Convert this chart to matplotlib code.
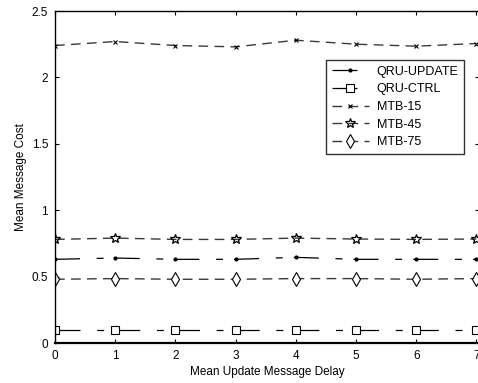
import numpy as np
import matplotlib
matplotlib.use('Agg')
import matplotlib.pyplot as plt

plt.rcParams['font.family'] = ['Liberation Sans', 'DejaVu Sans']
plt.rcParams['lines.scale_dashes'] = False

# 数据
delay = [0, 1, 2, 3, 4, 5, 6, 7]
qru_update = [0.63, 0.64, 0.63, 0.63, 0.645, 0.63, 0.63, 0.63]
qru_ctrl = [0.10, 0.10, 0.10, 0.10, 0.10, 0.10, 0.10, 0.10]
mtb_15 = [2.24, 2.27, 2.24, 2.23, 2.28, 2.25, 2.235, 2.255]
mtb_45 = [0.78, 0.79, 0.78, 0.78, 0.79, 0.783, 0.78, 0.783]
mtb_75 = [0.48, 0.485, 0.48, 0.48, 0.485, 0.485, 0.48, 0.485]

xticks = [0, 1, 2, 3, 4, 5, 6, 7]
yticks = [0, 0.5, 1, 1.5, 2, 2.5]
ytick_labels = ['0', '0.5', '1', '1.5', '2', '2.5']

W, H = 478, 383
fig = plt.figure(figsize=(W / 100, H / 100), dpi=100)
ax = fig.add_axes([55 / W, 40 / H, (479.4 - 55) / W, (343 - 11) / H])

qru_dash = (0, (18, 12, 5, 8))
mtb_dash = (0, (7, 4.5))
dash_col = '#3a3a3a'

ax.plot(delay, qru_update, color='black', lw=0.9, linestyle=qru_dash,
        marker='.', ms=4, label='QRU-UPDATE')
ax.plot(delay, qru_ctrl, color='black', lw=0.9, linestyle=qru_dash,
        marker='s', ms=5.8, mfc='white', mew=0.8, label='QRU-CTRL')
ax.plot(delay, mtb_15, color=dash_col, lw=1.0, linestyle=mtb_dash,
        marker='x', ms=3.5, mec='black', mew=0.8, label='MTB-15')
ax.plot(delay, mtb_45, color=dash_col, lw=1.0, linestyle=mtb_dash,
        marker='*', ms=7.5, mfc='none', mec='black', mew=0.9, label='MTB-45')
ax.plot(delay, mtb_75, color=dash_col, lw=1.0, linestyle=mtb_dash,
        marker='d', ms=6.8, mfc='white', mec='black', mew=0.8, label='MTB-75')

ax.set_xlim(0, 7.05)
ax.set_ylim(0, 2.5)
ax.set_xticks(xticks)
ax.set_yticks(yticks)
ax.set_yticklabels(ytick_labels)
ax.tick_params(direction='in', length=3, width=0.8, labelsize=8.5,
               top=True, right=True, pad=5)
for s in ax.spines.values():
    s.set_linewidth(1.0)
ax.spines['bottom'].set_linewidth(1.6)

ax.set_xlabel('Mean Update Message Delay', fontsize=8.5, labelpad=3)
ax.set_ylabel('Mean Message Cost', fontsize=8.5, labelpad=3)

leg = ax.legend(loc='upper left', bbox_to_anchor=(326 / W, 1 - 60 / H),
                bbox_transform=fig.transFigure, fontsize=9, frameon=True,
                fancybox=False, edgecolor='black', borderaxespad=0,
                handlelength=3.0, labelspacing=0.45, borderpad=0.45,
                handletextpad=0.6)
leg.get_frame().set_linewidth(1.0)

fig.savefig('out.png', dpi=100)
